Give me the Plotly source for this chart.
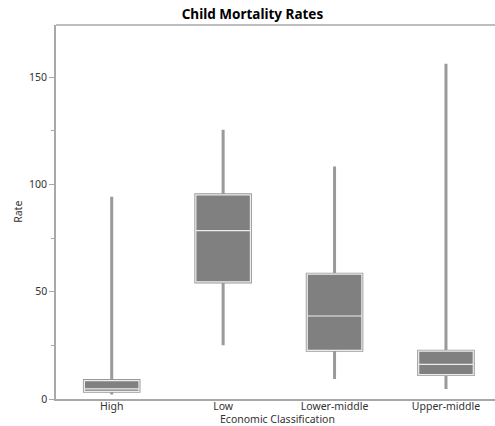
import plotly.graph_objects as go

categories = ["High", "Low", "Lower-middle", "Upper-middle"]
lower_whisker = [2.1, 25.1, 9.3, 4.7]
q1_values = [3.6, 54.6, 22.7, 11.4]
median_values = [4.7, 78.5, 38.7, 16.1]
q3_values = [8.6, 95.2, 58.2, 22.3]
upper_whisker = [94.3, 125.5, 108.4, 156.3]

font_family = "Noto Sans, Open Sans, DejaVu Sans, sans-serif"

fig = go.Figure()

# main box: gray fill, gray whiskers
fig.add_trace(go.Box(
    x=categories,
    q1=q1_values, median=median_values, q3=q3_values,
    lowerfence=lower_whisker, upperfence=upper_whisker,
    width=0.49,
    whiskerwidth=0,
    fillcolor="#808080",
    line=dict(color="#9a9a9a", width=3),
    boxpoints=False,
    hoverinfo="skip",
    showlegend=False,
))
# overlay: light outline + white median, no whiskers
fig.add_trace(go.Box(
    x=categories,
    q1=q1_values, median=median_values, q3=q3_values,
    lowerfence=q1_values, upperfence=q3_values,
    width=0.49,
    whiskerwidth=0,
    fillcolor="rgba(128,128,128,1)",
    line=dict(color="#ececec", width=1.2),
    boxpoints=False,
    hoverinfo="skip",
    showlegend=False,
))

fig.update_layout(
    width=495, height=426,
    margin=dict(l=56, r=0, t=25, b=26.5, autoexpand=False),
    paper_bgcolor="white",
    plot_bgcolor="white",
    boxmode="overlay",
    font=dict(family=font_family, size=10.5, color="#333333"),
    title=dict(text="<b>Child Mortality Rates</b>", x=0.51, xanchor="center",
               y=0.966, yanchor="middle",
               font=dict(family=font_family, size=13.5, color="#000000")),
)
fig.update_xaxes(
    range=[-0.5, 3.44], automargin=False,
    showline=True, linecolor="#a8a8a8", linewidth=1.5,
    ticks="", showgrid=False, zeroline=False,
    ticklabelstandoff=-3,
    tickfont=dict(size=10.5, color="#333333"),
)
fig.update_yaxes(
    range=[0, 174.4], automargin=False,
    showline=True, linecolor="#a8a8a8", linewidth=1.5, mirror=False,
    ticks="outside", ticklen=5, tickcolor="#a8a8a8", tickwidth=1,
    tickvals=[0, 50, 100, 150],
    minor=dict(tickvals=[25, 75, 125], ticks="outside", ticklen=3, tickcolor="#a8a8a8"),
    showgrid=False, zeroline=False,
    tickfont=dict(size=10.5, color="#333333"),
)
# top frame line
fig.add_shape(type="line", xref="paper", yref="paper", x0=0, x1=1, y0=1, y1=1,
              line=dict(color="#a8a8a8", width=1.5))
# axis titles
fig.add_annotation(text="Economic Classification", xref="paper", yref="paper",
                   x=0.504, y=-0.054, xanchor="center", yanchor="middle",
                   showarrow=False, font=dict(size=10.5, color="#333333"))
fig.add_annotation(text="Rate", xref="paper", yref="paper",
                   x=-0.087, y=0.5, xanchor="center", yanchor="middle", textangle=-90,
                   showarrow=False, font=dict(size=10.5, color="#333333"))

fig.write_html("out.html", config={"displayModeBar": False},
               post_script="document.body.style.margin='0';document.body.style.padding='0';")
